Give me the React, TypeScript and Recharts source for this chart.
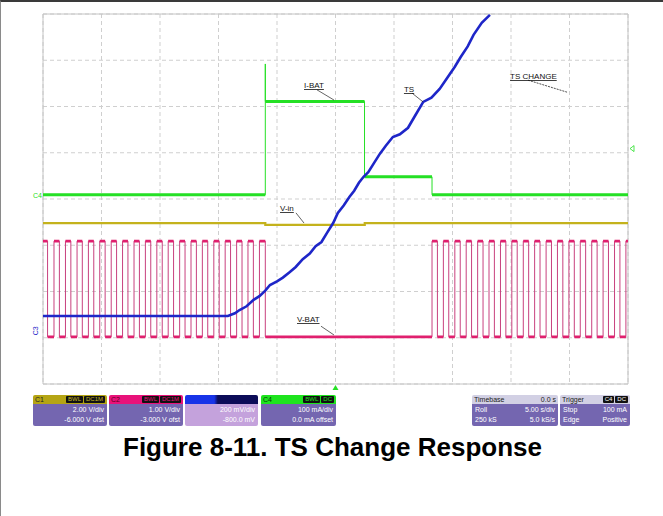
import { LineChart, Line, XAxis, YAxis, CartesianGrid, ReferenceLine, ReferenceDot, ReferenceArea } from "recharts";

// Scope screen: roll mode, 5 s/div over 10 divisions, 8 vertical divisions.
// All trace values are in screen divisions (0 = bottom graticule line).
const timeTicks = [-25, -20, -15, -10, -5, 0, 5, 10, 15, 20, 25];
const divTicks = [0, 1, 2, 3, 4, 5, 6, 7, 8];

// C4: I-BAT
const ibatEdges = [-25, -6.0, 2.48, 8.25, 25];
const ibatLevels = [4.09, 6.11, 4.48, 4.09];
const ibatSpike = 6.92;

// C1: V-in
const vinEdges = [-25, -6.0, 2.5, 25];
const vinLevels = [3.48, 3.44, 3.48];

// C3: TS
const tsTime = [-25, -9.2, -8.6, -8.2, -7.6, -7.0, -6.5, -6.0, -5.6, -5.0, -4.5, -3.9, -3.4, -2.8, -2.2, -1.7, -1.2, -0.7, -0.2, 0.2, 0.7, 1.2, 1.6, 2.0, 2.4, 2.8, 3.3, 3.8, 4.3, 4.9, 5.5, 6.2, 6.8, 7.5, 8.2, 8.9, 9.6, 10.2, 10.7, 11.3, 11.8, 12.5, 13.2];
const tsLevel = [1.47, 1.47, 1.53, 1.6, 1.68, 1.82, 1.9, 2.02, 2.14, 2.22, 2.3, 2.42, 2.53, 2.7, 2.82, 2.98, 3.07, 3.28, 3.48, 3.7, 3.86, 4.05, 4.18, 4.35, 4.48, 4.58, 4.78, 4.98, 5.15, 5.34, 5.4, 5.54, 5.8, 6.1, 6.19, 6.38, 6.64, 6.86, 7.07, 7.3, 7.55, 7.81, 7.98];

// C2: V-BAT charge pulses
const vbatRise = [-25.0, -24.06, -23.08, -22.09, -21.12, -20.15, -19.17, -18.2, -17.22, -16.25, -15.27, -14.3, -13.32, -12.35, -11.38, -10.4, -9.43, -8.45, -7.48, -6.5,
  8.25, 9.22, 10.2, 11.17, 12.15, 13.12, 14.1, 15.07, 16.05, 17.02, 18.0, 18.97, 19.95, 20.92, 21.9, 22.87, 23.85, 24.82];
const vbatFall = [-24.61, -23.6, -22.62, -21.64, -20.66, -19.69, -18.71, -17.74, -16.76, -15.79, -14.81, -13.84, -12.86, -11.89, -10.92, -9.94, -8.97, -7.99, -7.02, -6.0,
  8.71, 9.68, 10.66, 11.63, 12.61, 13.58, 14.56, 15.53, 16.51, 17.48, 18.46, 19.43, 20.41, 21.38, 22.36, 23.33, 24.31];
const vbatHigh = 3.09;
const vbatLow = 1.02;

type Pt = { t: number; v: number | null };

// step trace with vertical edges
const stepTrace = (edges: number[], levels: number[]): Pt[] =>
  levels.flatMap((lv, i) => [{ t: edges[i], v: lv }, { t: edges[i + 1], v: lv }]);

// only the flat parts, broken at each edge (drawn heavier, like the scope's dense samples)
const plateaus = (edges: number[], levels: number[]): Pt[] =>
  levels.flatMap((lv, i) => [{ t: edges[i], v: lv }, { t: edges[i + 1], v: lv }, { t: edges[i + 1], v: null }]);

const ibatTrace = ibatLevels.flatMap((lv, i) => {
  const pts = [{ t: ibatEdges[i], v: lv }, { t: ibatEdges[i + 1], v: lv }];
  return i === 1 ? [{ t: ibatEdges[i], v: ibatSpike }, ...pts] : pts;
});

const vbatEdges = [...vbatRise.flatMap((r, i) => (vbatFall[i] !== undefined ? [r, vbatFall[i]] : [r])), 25];
const vbatLevels = vbatEdges.slice(0, -1).map((_, i) => (i % 2 === 0 ? vbatHigh : vbatLow));

const tsData = tsTime.map((t, i) => ({ t, v: tsLevel[i] }));
const vinData = stepTrace(vinEdges, vinLevels);

const GREEN = "#25e025";
const YELLOW = "#c4b21c";
const BLUE = "#1e26c8";
const PINK = "#e0206e";

const noteFont = { fontFamily: "'Liberation Sans', Arial, sans-serif", fontSize: 8 };

const note = (text: string) => (p: any) => (
  <text x={p.cx} y={p.cy} fill="#111" textDecoration="underline" style={noteFont}>{text}</text>
);

function Panel({ left, width, head, headRight, headColor, headText, badges, badgeColor, bodyColor, rows }: any) {
  return (
    <div style={{ position: "absolute", left, top: 393, width, height: 31, borderRadius: 2, overflow: "hidden", fontFamily: "'Liberation Sans', Arial, sans-serif", fontSize: 7, lineHeight: "10px" }}>
      <div style={{ height: 9, background: headColor, color: headText, display: "flex", justifyContent: "space-between", alignItems: "center", padding: "0 2px" }}>
        <span>{head}</span>
        <span style={{ display: "flex", gap: 1 }}>
          {headRight ? <span>{headRight}</span> : null}
          {badges.map((b: string) => (
            <span key={b} style={{ background: "#111", color: badgeColor, padding: "0 2px", borderRadius: 1, lineHeight: "7px", fontSize: 6 }}>{b}</span>
          ))}
        </span>
      </div>
      <div style={{ height: 22, background: bodyColor, color: "#fff", padding: "1px 3px 0 3px" }}>
        {rows.map((r: string[], i: number) => (
          <div key={i} style={{ display: "flex", justifyContent: r.length > 1 ? "space-between" : "flex-end" }}>
            {r.map((c) => <span key={c}>{c}</span>)}
          </div>
        ))}
      </div>
    </div>
  );
}

export default function App() {
  return (
    <div style={{ position: "absolute", left: 0, top: 0, width: 663, height: 516, background: "#fff", borderTop: "2px solid #3a3a3a", borderLeft: "1px solid #8a8a8a", boxSizing: "border-box" }}>
      <div style={{ position: "absolute", left: -1, top: -2 }}>
        <LineChart width={663} height={400} margin={{ top: 14, right: 35, bottom: 16, left: 43 }}>
          <XAxis type="number" dataKey="t" domain={[-25, 25]} ticks={timeTicks} hide allowDataOverflow />
          <YAxis type="number" dataKey="v" domain={[0, 8]} ticks={divTicks} hide allowDataOverflow />
          <CartesianGrid stroke="#cfcfcf" strokeDasharray="4 3" />
          <ReferenceArea x1={-25} x2={25} y1={0} y2={8} fill="none" stroke="#c4c4c4" strokeWidth={1} />

          <Line data={vinData} dataKey="v" type="linear" stroke={YELLOW} strokeWidth={2.2} dot={false} isAnimationActive={false} />

          <Line data={stepTrace(vbatEdges, vbatLevels)} dataKey="v" type="linear" stroke="#c8407e" strokeWidth={1} dot={false} isAnimationActive={false} />
          <Line data={plateaus(vbatEdges, vbatLevels)} dataKey="v" type="linear" stroke={PINK} strokeWidth={2.6} dot={false} isAnimationActive={false} />

          <Line data={ibatTrace} dataKey="v" type="linear" stroke={GREEN} strokeWidth={1} dot={false} isAnimationActive={false} />
          <Line data={plateaus(ibatEdges, ibatLevels)} dataKey="v" type="linear" stroke={GREEN} strokeWidth={3} dot={false} isAnimationActive={false} />

          <Line data={tsData} dataKey="v" type="linear" stroke={BLUE} strokeWidth={2.6} dot={false} isAnimationActive={false} />

          <ReferenceLine segment={[{ x: -1.58, y: 6.36 }, { x: -0.13, y: 6.14 }]} stroke="#222" strokeWidth={0.7} />
          <ReferenceLine segment={[{ x: 6.54, y: 6.29 }, { x: 7.48, y: 6.1 }]} stroke="#222" strokeWidth={0.7} />
          <ReferenceLine segment={[{ x: 16.45, y: 6.57 }, { x: 19.79, y: 6.31 }]} stroke="#222" strokeWidth={0.8} strokeDasharray="2 1" />
          <ReferenceLine segment={[{ x: -3.38, y: 3.7 }, { x: -2.69, y: 3.48 }]} stroke="#222" strokeWidth={0.7} />
          <ReferenceLine segment={[{ x: -1.24, y: 1.25 }, { x: -0.13, y: 1.06 }]} stroke="#222" strokeWidth={0.7} />

          <ReferenceDot x={-2.69} y={6.4} r={0} ifOverflow="visible" shape={note("I-BAT")} />
          <ReferenceDot x={5.85} y={6.31} r={0} ifOverflow="visible" shape={note("TS")} />
          <ReferenceDot x={14.92} y={6.59} r={0} ifOverflow="visible" shape={note("TS CHANGE")} />
          <ReferenceDot x={-4.74} y={3.74} r={0} ifOverflow="visible" shape={note("V-in")} />
          <ReferenceDot x={-3.29} y={1.34} r={0} ifOverflow="visible" shape={note("V-BAT")} />

          {/* channel ground markers and trigger markers */}
          <ReferenceDot x={-25} y={4.09} r={0} ifOverflow="visible" shape={(p: any) => (
            <text x={p.cx - 10} y={p.cy + 3} fill={GREEN} style={{ ...noteFont, fontSize: 7 }}>C4</text>
          )} />
          <ReferenceDot x={-25} y={1.15} r={0} ifOverflow="visible" shape={(p: any) => (
            <text x={p.cx - 5} y={p.cy} fill={BLUE} transform={`rotate(-90 ${p.cx - 5} ${p.cy})`} textAnchor="middle" style={{ ...noteFont, fontSize: 7 }}>C3</text>
          )} />
          <ReferenceDot x={25} y={5.09} r={0} ifOverflow="visible" shape={(p: any) => (
            <path d={`M${p.cx + 2} ${p.cy} L${p.cx + 6} ${p.cy - 3} L${p.cx + 6} ${p.cy + 3} Z`} fill="none" stroke={GREEN} strokeWidth={0.8} />
          )} />
          <ReferenceDot x={0} y={0} r={0} ifOverflow="visible" shape={(p: any) => (
            <path d={`M${p.cx} ${p.cy + 1} L${p.cx - 3} ${p.cy + 6} L${p.cx + 3} ${p.cy + 6} Z`} fill={GREEN} />
          )} />
        </LineChart>
      </div>

      <Panel left={32} width={74} head="C1" headColor="#b5a514" headText="#222" badges={["BWL", "DC1M"]} badgeColor="#c9b826" bodyColor="#7466b0" rows={[["2.00 V/div"], ["-6.000 V ofst"]]} />
      <Panel left={108} width={74} head="C2" headColor="#e8127a" headText="#5a0020" badges={["BWL", "DC1M"]} badgeColor="#e8127a" bodyColor="#7466b0" rows={[["1.00 V/div"], ["-3.000 V ofst"]]} />
      <Panel left={184} width={73} head="" headColor="linear-gradient(90deg, #1733e8 0%, #1733e8 40%, #0c0c58 45%, #0c0c58 100%)" headText="#fff" badges={[]} badgeColor="#fff" bodyColor="#c4a2dc" rows={[["200 mV/div"], ["-800.0 mV"]]} />
      <Panel left={260} width={75} head="C4" headColor="#1ee41e" headText="#064006" badges={["BWL", "DC"]} badgeColor="#1ee41e" bodyColor="#7466b0" rows={[["100 mA/div"], ["0.0 mA offset"]]} />
      <Panel left={471} width={86} head="Timebase" headRight="0.0 s" headColor="#d2d0e4" headText="#222" badges={[]} badgeColor="#222" bodyColor="#7466b0" rows={[["Roll", "5.00 s/div"], ["250 kS", "5.0 kS/s"]]} />
      <Panel left={559} width={70} head="Trigger" headColor="#d2d0e4" headText="#222" badges={["C4", "DC"]} badgeColor="#fff" bodyColor="#7466b0" rows={[["Stop", "100 mA"], ["Edge", "Positive"]]} />

      <div style={{ position: "absolute", left: 0, top: 432, width: 663, textAlign: "center", fontFamily: "'Liberation Sans', Arial, sans-serif", fontWeight: "bold", fontSize: 26, lineHeight: "26px", color: "#000" }}>
        Figure 8-11. TS Change Response
      </div>
    </div>
  );
}
